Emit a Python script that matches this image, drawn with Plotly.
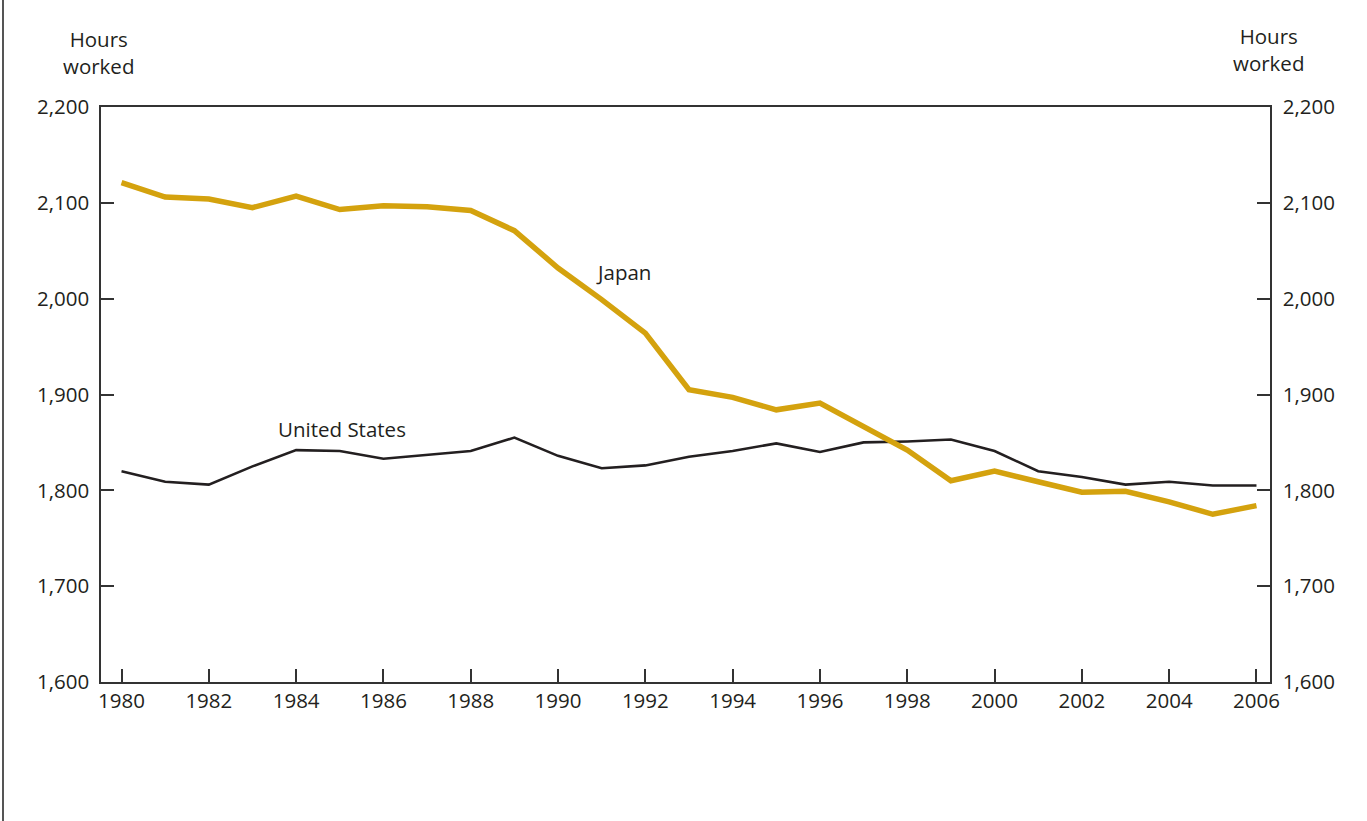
import plotly.graph_objects as go

years = list(range(1980, 2007))
japan = [2121, 2106, 2104, 2095, 2107, 2093, 2097, 2096, 2092, 2071,
         2032, 1999, 1964, 1905, 1897, 1884, 1891, 1866, 1842, 1810,
         1820, 1809, 1798, 1799, 1788, 1775, 1784]
us = [1820, 1809, 1806, 1825, 1842, 1841, 1833, 1837, 1841, 1855,
      1836, 1823, 1826, 1835, 1841, 1849, 1840, 1850, 1851, 1853,
      1841, 1820, 1814, 1806, 1809, 1805, 1805]
y_ticks = [1600, 1700, 1800, 1900, 2000, 2100, 2200]
y_labels = ["1,600", "1,700", "1,800", "1,900", "2,000", "2,100", "2,200"]
x_ticks = list(range(1980, 2007, 2))

FONT = "Open Sans"
TXT = "#231f20"
FS = 20.5

L, R, T, B = 101, 97, 107, 139
W, H = 1367, 821

fig = go.Figure()
fig.add_trace(go.Scatter(x=years, y=us, mode="lines", name="United States",
                         line=dict(color="#231f20", width=2.6), yaxis="y"))
fig.add_trace(go.Scatter(x=years, y=japan, mode="lines", name="Japan",
                         line=dict(color="#d4a20e", width=5.5), yaxis="y2"))

axis_common = dict(range=[1600, 2200], tickvals=y_ticks, ticktext=y_labels,
                   ticks="inside", ticklen=13, tickwidth=1.5, tickcolor="#333",
                   showline=True, linecolor="#333", linewidth=1.5,
                   showgrid=False, zeroline=False,
                   tickfont=dict(family=FONT, size=FS, color=TXT))

pw, ph = W - L - R, H - T - B
def px(xp):
    return (xp - L) / pw
def py(yp):
    return (H - B - yp) / ph

fig.update_layout(
    width=W, height=H,
    margin=dict(l=L, r=R, t=T, b=B),
    paper_bgcolor="white", plot_bgcolor="white",
    showlegend=False,
    xaxis=dict(range=[1979.53, 2006.31], tickvals=x_ticks,
               ticks="inside", ticklen=13, tickwidth=1.5, tickcolor="#333",
               showline=True, mirror=True, linecolor="#333", linewidth=1.5,
               showgrid=False, zeroline=False,
               tickfont=dict(family=FONT, size=FS, color=TXT)),
    yaxis=dict(side="left", ticklabelstandoff=6, **axis_common),
    yaxis2=dict(side="right", overlaying="y", ticklabelstandoff=7, **axis_common),
    annotations=[
        dict(text="Hours<br>worked", x=px(98), y=py(53), xref="paper", yref="paper",
             xanchor="center", yanchor="middle",
             showarrow=False, align="center", font=dict(family=FONT, size=FS, color=TXT)),
        dict(text="Hours<br>worked", x=px(1268), y=py(50), xref="paper", yref="paper",
             xanchor="center", yanchor="middle",
             showarrow=False, align="center", font=dict(family=FONT, size=FS, color=TXT)),
        dict(text="Japan", x=1991.5, y=2028, xref="x", yref="y",
             xanchor="center", yanchor="middle",
             showarrow=False, font=dict(family=FONT, size=FS, color=TXT)),
        dict(text="United States", x=1985.05, y=1864, xref="x", yref="y",
             xanchor="center", yanchor="middle",
             showarrow=False, font=dict(family=FONT, size=FS, color=TXT)),
    ],
)

fig.add_shape(type="line", xref="paper", yref="paper",
              x0=px(3), x1=px(3), y0=py(H), y1=py(0),
              line=dict(color="#555", width=2))

fig.write_html("out.html", config={"displayModeBar": False},
               post_script="document.body.style.margin='0';")
